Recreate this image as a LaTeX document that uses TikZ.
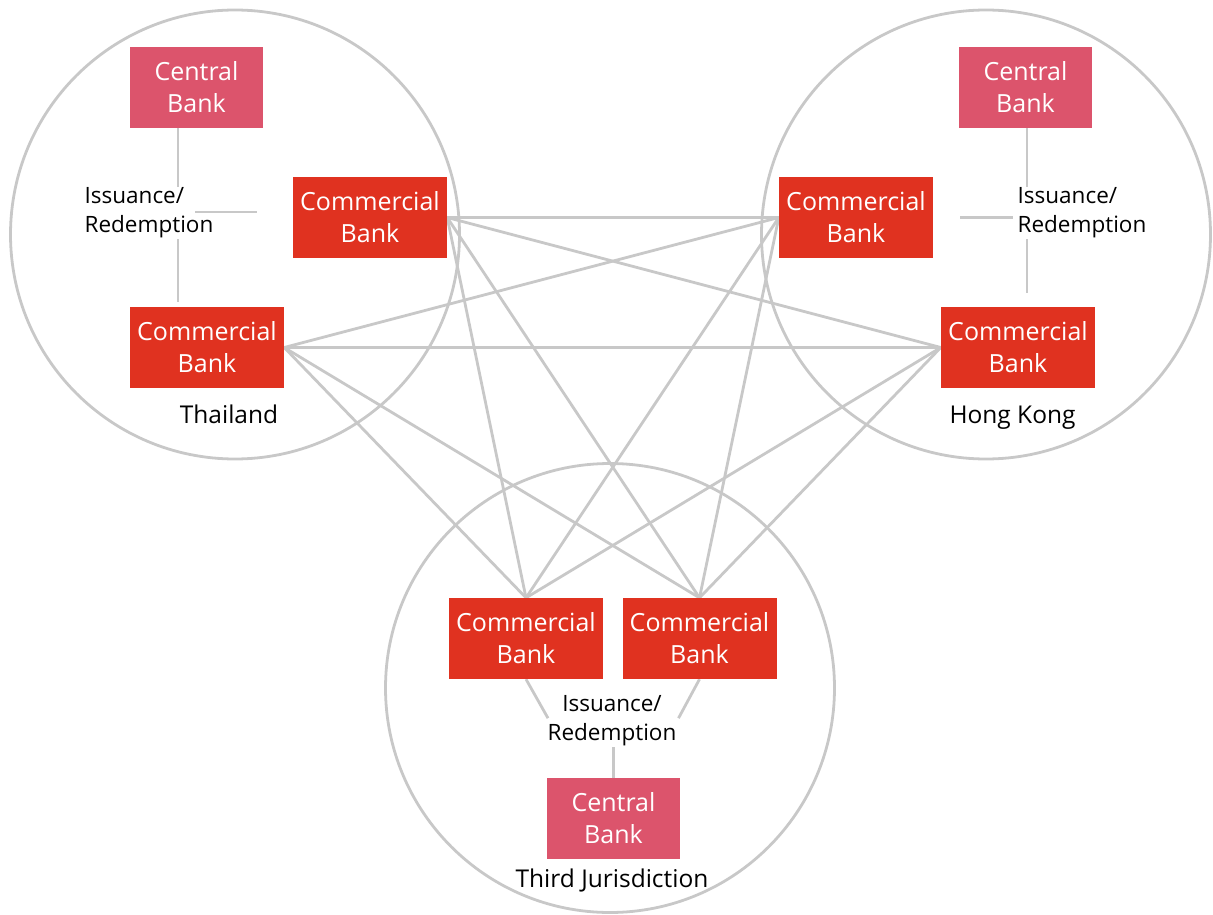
\documentclass[tikz,border=0pt]{standalone}
\usepackage{fontspec}
\setmainfont{Open Sans}
\usetikzlibrary{positioning,backgrounds}
\definecolor{cbpink}{RGB}{220,84,108}
\definecolor{cbred}{RGB}{224,50,32}
\definecolor{linegrey}{RGB}{200,200,200}

\begin{document}
\begin{tikzpicture}[x=1pt, y=-1pt,
		bank/.style={rectangle,fill=cbred,text=white,align=center,minimum width=154pt,minimum height=81pt,inner sep=0pt,font=\fontsize{25}{32}\selectfont},
		central/.style={bank,fill=cbpink,minimum width=133pt},
		link/.style={draw=linegrey,line width=2.8pt},
		issue/.style={inner sep=1pt,font=\fontsize{22.5}{29}\selectfont},
		place/.style={inner sep=0pt,anchor=base,font=\fontsize{24.5}{30}\selectfont}]
		\useasboundingbox (0, 0) rectangle (1213, 915);

		\node[central] (thcb) at (196.5, 87.5) {Central\\Bank};
		\node[bank] (thcba) at (370, 217.5) {Commercial\\Bank};
		\node[bank] (thcbb) at (207, 347.5) {Commercial\\Bank};
		\node[place] (thname) at (229, 423) {Thailand};
		\node[issue,align=left] (thiss) at (149, 213) {Issuance/\\Redemption};
		\coordinate (thx) at (178, 0);

		\node[central] (hkcb) at (1025.5, 87.5) {Central\\Bank};
		\node[bank] (hkcba) at (856, 217.5) {Commercial\\Bank};
		\node[bank] (hkcbb) at (1018, 347.5) {Commercial\\Bank};
		\node[place] (hkname) at (1012.5, 423) {Hong Kong};
		\node[issue,align=left] (hkiss) at (1082, 213) {Issuance/\\Redemption};
		\coordinate (hkx) at (1027, 0);

		\node[bank] (tjcba) at (526, 638.5) {Commercial\\Bank};
		\node[bank] (tjcbb) at (699.5, 638.5) {Commercial\\Bank};
		\node[central] (tjcb) at (613.5, 818.5) {Central\\Bank};
		\node[place] (tjname) at (612, 887) {Third Jurisdiction};
		\node[issue,align=center] (tjiss) at (612, 721) {Issuance/\\Redemption};

		\begin{scope}[on background layer]
			\draw[link] (235, 234.5) circle[radius=224.5pt];
			\draw[link] (986, 234.5) circle[radius=224.5pt];
			\draw[link] (610, 688) circle[radius=224.5pt];

			\draw[link] (thcb.south -| thx) -- (thiss.north -| thx);
			\draw[link,shorten >=5pt] (thiss.south -| thx) -- (thcbb.north -| thx);
			\draw[link] ([xshift=-36pt]thcba.west |- 0, 212) -- ++(-62, 0);

			\draw[link] (hkcb.south -| hkx) -- (hkiss.north -| hkx);
			\draw[link,shorten >=14pt] (hkiss.south -| hkx) -- (hkcbb.north -| hkx);
			\draw[link] ([xshift=27pt]hkcba.east) -- ++(53, 0);

			\draw[link] (tjcba.south) -- ++(22, 39);
			\draw[link] (tjcbb.south) -- ++(-21, 39);
			\draw[link] (tjcb.north) -- (tjiss.south -| tjcb.north);

			\draw[link] (thcba.east) -- (hkcba.west);
			\draw[link] (thcba.east) -- (hkcbb.west);
			\draw[link] (thcba.east) -- (tjcba.north);
			\draw[link] (thcba.east) -- (tjcbb.north);
			\draw[link] (thcbb.east) -- (hkcba.west);
			\draw[link] (thcbb.east) -- (hkcbb.west);
			\draw[link] (thcbb.east) -- (tjcba.north);
			\draw[link] (thcbb.east) -- (tjcbb.north);
			\draw[link] (hkcba.west) -- (tjcba.north);
			\draw[link] (hkcba.west) -- (tjcbb.north);
			\draw[link] (hkcbb.west) -- (tjcba.north);
			\draw[link] (hkcbb.west) -- (tjcbb.north);
		\end{scope}
\end{tikzpicture}
\end{document}
